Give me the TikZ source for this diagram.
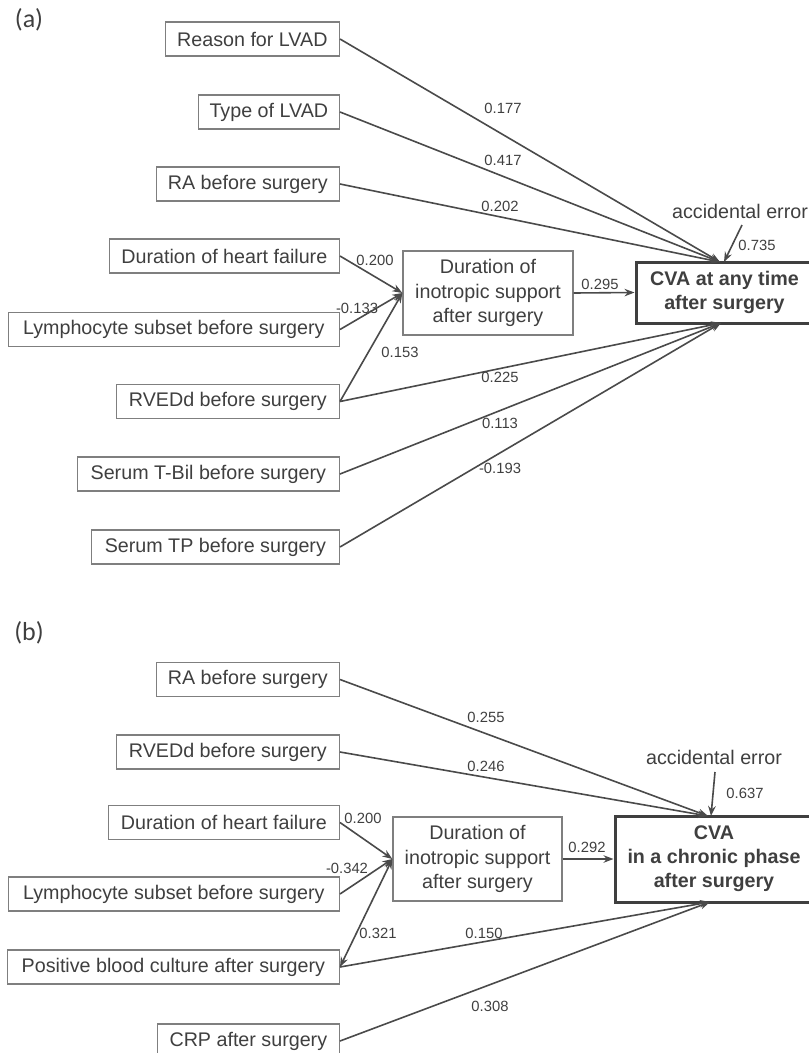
\documentclass[tikz,border=0pt]{standalone}
\usepackage{fontspec}
\setmainfont{Liberation Sans}
\newfontfamily\labfont{Carlito}
\usetikzlibrary{arrows.meta}
\definecolor{txt}{HTML}{3F3F3F}
\definecolor{bord}{HTML}{7F7F7F}
\definecolor{conn}{HTML}{4A4A4A}
\tikzset{
  box/.style={draw=bord, line width=1.3pt, text=txt, minimum height=34pt, inner sep=0pt, font=\fontsize{19.7}{23}\selectfont, anchor=east},
  midbox/.style={draw=bord, line width=1.3pt, text=txt, inner sep=0pt, align=center, font=\fontsize{19.7}{24.5}\selectfont},
  outbox/.style={draw=txt, line width=3pt, text=txt, inner sep=0pt, align=center, font=\fontsize{19.7}{24}\selectfont\bfseries},
  coef/.style={text=txt, inner sep=0pt, font=\fontsize{14.8}{16}\selectfont},
  err/.style={text=txt, inner sep=0pt, font=\fontsize{19.7}{23}\selectfont},
  panel/.style={text=txt, inner sep=0pt, font=\labfont\fontsize{26}{30}\selectfont},
  conn/.style={draw=conn, line width=1.6pt, -{Stealth[length=10pt,width=7.5pt]}},
  bconn/.style={draw=conn, line width=1.6pt, {Stealth[length=10pt,width=7.5pt]}-{Stealth[length=10pt,width=7.5pt]}}
}
\begin{document}
\begin{tikzpicture}[x=1pt,y=-1pt]
\useasboundingbox (0,0) rectangle (809,1053);
\clip (0,0) rectangle (809,1053);
% ---------------- panel (a)
\node[panel] (pa) at (29,20) {(a)};
\node[box, minimum width=174pt] (a1) at (340,39) {Reason for LVAD};
\node[box, minimum width=141pt] (a2) at (340,112) {Type of LVAD};
\node[box, minimum width=183pt] (a3) at (340,184) {RA before surgery};
\node[box, minimum width=230pt] (a4) at (340,256) {Duration of heart failure};
\node[box, minimum width=331pt] (a5) at (340,329.5) {Lymphocyte subset before surgery};
\node[box, minimum width=223pt] (a6) at (340,401.5) {RVEDd before surgery};
\node[box, minimum width=262pt] (a7) at (340,474) {Serum T-Bil before surgery};
\node[box, minimum width=248pt] (a8) at (340,547) {Serum TP before surgery};
\node[midbox, minimum width=170pt, minimum height=84pt] (ai) at (488,293) {Duration of\\inotropic support\\after surgery};
\node[outbox, minimum width=177pt, minimum height=61pt] (ac) at (724.5,292.5) {CVA at any time\\after surgery};
\node[err] (ae) at (740,211) {accidental error};
\coordinate (act) at (720,262);
\coordinate (acb) at (721,323);
\coordinate (aet) at (742,225);
\coordinate (aeh) at (724,262);
\draw[conn] (a1.east) -- (act);
\draw[conn] (a2.east) -- (act);
\draw[conn] (a3.east) -- (act);
\draw[conn] (aet) -- (aeh);
\draw[conn] (a4.east) -- (ai.west);
\draw[conn] (a5.east) -- (ai.west);
\draw[conn] (a6.east) -- (ai.west);
\draw[conn] (ai.east) -- (ac.west);
\draw[conn] (a6.east) -- (acb);
\draw[conn] (a7.east) -- (acb);
\draw[conn] (a8.east) -- (acb);
\node[coef] (ca1) at (503,108) {0.177};
\node[coef] (ca2) at (503,160) {0.417};
\node[coef] (ca3) at (500,206) {0.202};
\node[coef] (ca4) at (375,260) {0.200};
\node[coef] (ca5) at (357,308) {-0.133};
\node[coef] (ca6) at (400,352) {0.153};
\node[coef] (ca7) at (600,284) {0.295};
\node[coef] (ca8) at (500,377) {0.225};
\node[coef] (ca9) at (500,423) {0.113};
\node[coef] (ca10) at (500,468) {-0.193};
\node[coef] (ca11) at (757,245) {0.735};
% ---------------- panel (b)
\node[panel] (pb) at (29,633) {(b)};
\node[box, minimum width=183pt] (b1) at (340,679.5) {RA before surgery};
\node[box, minimum width=223pt] (b2) at (340,752) {RVEDd before surgery};
\node[box, minimum width=231pt] (b3) at (340,822.5) {Duration of heart failure};
\node[box, minimum width=331pt] (b4) at (340,894) {Lymphocyte subset before surgery};
\node[box, minimum width=332pt] (b5) at (340,967) {Positive blood culture after surgery};
\node[box, minimum width=182pt] (b6) at (340,1041) {CRP after surgery};
\node[midbox, minimum width=169pt, minimum height=84pt] (bi) at (477.5,859) {Duration of\\inotropic support\\after surgery};
\node[outbox, minimum width=198pt, minimum height=86pt] (bc) at (714,859) {CVA\\in a chronic phase\\after surgery};
\node[err] (be) at (714,757) {accidental error};
\coordinate (bct) at (708,816);
\coordinate (bcb) at (710,902);
\coordinate (bet) at (715,772);
\coordinate (beh) at (711,816);
\draw[conn] (b1.east) -- (bct);
\draw[conn] (b2.east) -- (bct);
\draw[conn] (bet) -- (beh);
\draw[conn] (b3.east) -- (bi.west);
\draw[conn] (b4.east) -- (bi.west);
\draw[bconn] (b5.east) -- (bi.west);
\draw[conn] (bi.east) -- (bc.west);
\draw[conn] (b5.east) -- (bcb);
\draw[conn] (b6.east) -- (bcb);
\node[coef] (cb1) at (486,717) {0.255};
\node[coef] (cb2) at (486,766) {0.246};
\node[coef] (cb3) at (363,818) {0.200};
\node[coef] (cb4) at (347,868) {-0.342};
\node[coef] (cb5) at (378,933) {0.321};
\node[coef] (cb6) at (484,933) {0.150};
\node[coef] (cb7) at (587,847) {0.292};
\node[coef] (cb8) at (490,1006) {0.308};
\node[coef] (cb9) at (745,793) {0.637};
\end{tikzpicture}
\end{document}
